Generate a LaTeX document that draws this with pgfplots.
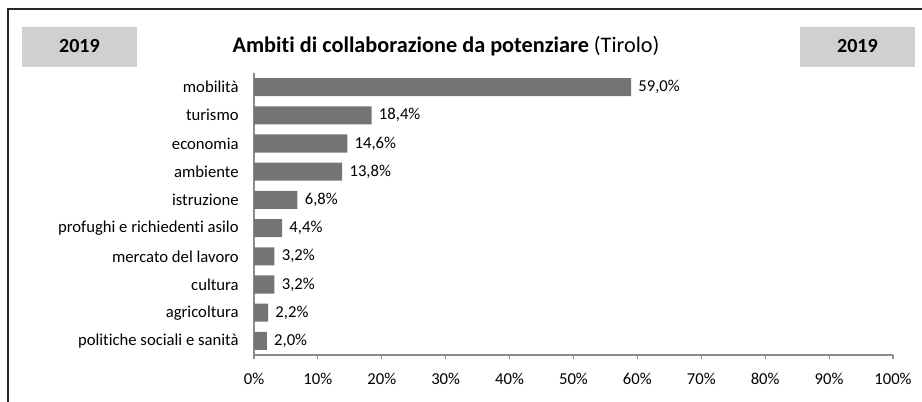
\documentclass[border=0pt]{standalone}
\usepackage{pgfplots}
\pgfplotsset{compat=1.18}
\usepackage{fontspec}
\setmainfont{Carlito}[Ligatures=NoCommon]
\definecolor{bargray}{HTML}{727476}
\definecolor{boxgray}{HTML}{D0D0D0}
\definecolor{axgray}{HTML}{8C8C8C}
\begin{document}
\begin{tikzpicture}
% canvas 922x402 px, 1px = 0.75pt
\path[use as bounding box] (0,0) rectangle (691.5pt,301.5pt);
\draw[line width=1.1pt, black!85] (6pt,0) -- (6pt,294.75pt) -- (691.5pt,294.75pt);
\fill[boxgray] (16.5pt,251.25pt) rectangle (102.75pt,281.25pt);
\fill[boxgray] (600pt,251.25pt) rectangle (686.25pt,281.25pt);
\node[font=\fontsize{15}{17}\selectfont\bfseries] at (59.6pt,266.7pt) {2019};
\node[font=\fontsize{15}{17}\selectfont\bfseries] at (643.1pt,266.7pt) {2019};
\node[font=\fontsize{16.7}{19}\selectfont] at (334.5pt,266.7pt) {\textbf{Ambiti di collaborazione da potenziare} (Tirolo)};
\begin{axis}[
    at={(190.5pt,35.25pt)}, anchor=south west,
    scale only axis,
    width=479.25pt, height=211.5pt,
    xbar, bar width=0.64,
    xmin=0, xmax=100,
    ymin=-0.5, ymax=9.5,
    y dir=reverse,
    axis lines*=left,
    axis line style={axgray, line width=0.8pt},
    xtick={0,10,...,100},
    xticklabel={\pgfmathprintnumber{\tick}\%},
    ytick={0,...,9},
    yticklabels={mobilità, turismo, economia, ambiente, istruzione,
        profughi e richiedenti asilo, mercato del lavoro, cultura,
        agricoltura, politiche sociali e sanità},
    minor ytick={-0.5,0.5,...,9.5},
    major tick length=3pt,
    tick align=outside,
    tick style={axgray, line width=0.8pt},
    ytick style={draw=none},
    minor tick style={axgray, line width=0.8pt},
    minor tick length=4pt,
    /pgf/number format/assume math mode=true,
    tick label style={font=\fontsize{12.5}{14}\selectfont},
    xticklabel style={yshift=-7pt},
    yticklabel style={xshift=-5pt},
    nodes near coords={\pgfmathprintnumber[fixed,fixed zerofill,precision=1,use comma]{\pgfplotspointmeta}\%},
    point meta=x,
    every node near coord/.append style={font=\fontsize{12.5}{14}\selectfont, xshift=2pt},
]
\addplot[fill=bargray, draw=none] coordinates {
    (59.0,0) (18.4,1) (14.6,2) (13.8,3) (6.8,4)
    (4.4,5) (3.2,6) (3.2,7) (2.2,8) (2.0,9)
};
\end{axis}
\end{tikzpicture}
\end{document}
